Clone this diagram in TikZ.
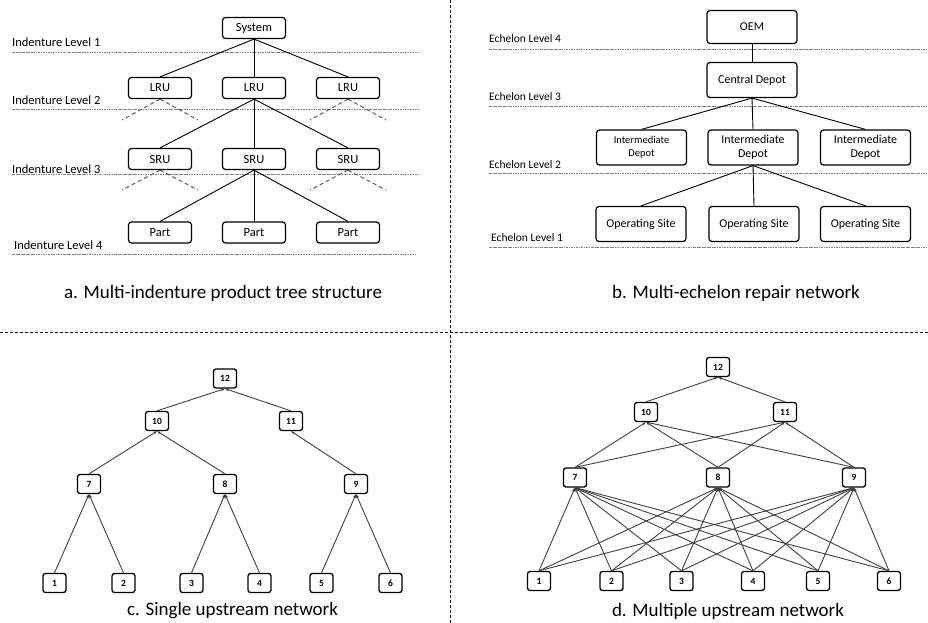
\documentclass[tikz,border=0pt]{standalone}
\usepackage{fontspec}
\setmainfont{Carlito}
\usetikzlibrary{arrows.meta}
\begin{document}
\begin{tikzpicture}[x=1pt,y=-1pt,
 box/.style={draw, line width=1.2pt, rounded corners=3pt, minimum width=63pt, minimum height=21pt, inner sep=1pt, font=\fontsize{12.5}{14}\selectfont},
 ebox/.style={box, minimum width=90pt, minimum height=35pt, align=center, font=\fontsize{12}{14}\selectfont},
 nbox/.style={draw, line width=1.3pt, rounded corners=2.5pt, minimum width=23pt, minimum height=19pt, inner sep=1pt, font=\bfseries\fontsize{9.5}{10}\selectfont},
 lvl/.style={draw=gray, line width=0.6pt, dash pattern=on 2.5pt off 1pt on 0.6pt off 1pt},
 lvltext/.style={anchor=west, inner sep=0pt, font=\fontsize{12.5}{14}\selectfont},
 etext/.style={anchor=west, inner sep=0pt, font=\fontsize{11.5}{13}\selectfont},
 tree/.style={line width=0.9pt},
 dtree/.style={line width=0.9pt, dash pattern=on 4pt off 3pt, draw=black!70},
 arr/.style={draw=black!75, line width=0.9pt, -{Stealth[length=4pt,width=3pt]}},
 captext/.style={font=\fontsize{19}{22}\selectfont},
 divider/.style={line width=1pt, dash pattern=on 3pt off 2pt}
]
\fill[white] (0,0) rectangle (928,623);
\useasboundingbox (0,0) rectangle (928,623);

% dividers
\coordinate (vt) at (450,0); \coordinate (vb) at (450,623);
\coordinate (hl) at (0,332); \coordinate (hr) at (928,332);
\draw[divider] (vt) -- (vb);
\draw[divider] (hl) -- (hr);

% ---------------- panel a ----------------
\coordinate (a1l) at (12,52);  \coordinate (a1r) at (420,52);
\coordinate (a2l) at (12,109); \coordinate (a2r) at (420,109);
\coordinate (a3l) at (12,174); \coordinate (a3r) at (420,174);
\coordinate (a4l) at (12,254); \coordinate (a4r) at (416,254);
\draw[lvl] (a1l) -- (a1r);
\draw[lvl] (a2l) -- (a2r);
\draw[lvl] (a3l) -- (a3r);
\draw[lvl] (a4l) -- (a4r);
\node[lvltext] (ta1) at (12,42) {Indenture Level 1};
\node[lvltext] (ta2) at (12,100) {Indenture Level 2};
\node[lvltext] (ta3) at (12,169) {Indenture Level 3};
\node[lvltext] (ta4) at (14,245) {Indenture Level 4};

\node[box] (sys) at (254,28) {System};
\node[box] (lru1) at (160,88) {LRU};
\node[box] (lru2) at (254,88) {LRU};
\node[box] (lru3) at (348,88) {LRU};
\node[box] (sru1) at (160,159) {SRU};
\node[box] (sru2) at (254,159) {SRU};
\node[box] (sru3) at (348,159) {SRU};
\node[box] (part1) at (160,232.5) {Part};
\node[box] (part2) at (254,232.5) {Part};
\node[box] (part3) at (348,232.5) {Part};

\draw[tree] (sys.south) -- (lru1.north);
\draw[tree] (sys.south) -- (lru2.north);
\draw[tree] (sys.south) -- (lru3.north);
\draw[tree] (lru2.south) -- (sru1.north);
\draw[tree] (lru2.south) -- (sru2.north);
\draw[tree] (lru2.south) -- (sru3.north);
\draw[tree] (sru2.south) -- (part1.north);
\draw[tree] (sru2.south) -- (part2.north);
\draw[tree] (sru2.south) -- (part3.north);

\coordinate (d1a) at (122,120); \coordinate (d1b) at (198,120);
\coordinate (d3a) at (310,120); \coordinate (d3b) at (386,120);
\coordinate (e1a) at (122,190); \coordinate (e1b) at (198,190);
\coordinate (e3a) at (310,190); \coordinate (e3b) at (386,190);
\draw[dtree] (lru1.south) -- (d1a);
\draw[dtree] (lru1.south) -- (d1b);
\draw[dtree] (lru3.south) -- (d3a);
\draw[dtree] (lru3.south) -- (d3b);
\draw[dtree] (sru1.south) -- (e1a);
\draw[dtree] (sru1.south) -- (e1b);
\draw[dtree] (sru3.south) -- (e3a);
\draw[dtree] (sru3.south) -- (e3b);

\node[captext] (capa) at (223,293) {a. Multi-indenture product tree structure};

% ---------------- panel b ----------------
\coordinate (b4l) at (489,49);  \coordinate (b4r) at (928,49);
\coordinate (b3l) at (489,106); \coordinate (b3r) at (928,106);
\coordinate (b2l) at (489,173); \coordinate (b2r) at (928,173);
\coordinate (b1l) at (489,247); \coordinate (b1r) at (928,247);
\draw[lvl] (b4l) -- (b4r);
\draw[lvl] (b3l) -- (b3r);
\draw[lvl] (b2l) -- (b2r);
\draw[lvl] (b1l) -- (b1r);
\node[etext] (tb4) at (489,39) {Echelon Level 4};
\node[etext] (tb3) at (489,97) {Echelon Level 3};
\node[etext] (tb2) at (489,165) {Echelon Level 2};
\node[etext] (tb1) at (491,238) {Echelon Level 1};

\node[ebox, minimum height=33pt] (oem) at (752,27) {OEM};
\node[ebox] (cdep) at (752,80) {Central Depot};
\node[ebox, font=\fontsize{10.5}{13}\selectfont] (id1) at (641.5,147.5) {Intermediate\\Depot};
\node[ebox] (id2) at (753,147.5) {Intermediate\\Depot};
\node[ebox] (id3) at (865.5,147.5) {Intermediate\\Depot};
\node[ebox] (os1) at (641,224) {Operating Site};
\node[ebox] (os2) at (754,224) {Operating Site};
\node[ebox] (os3) at (865.5,224) {Operating Site};

\draw[tree] (oem.south) -- (cdep.north);
\draw[tree] (cdep.south) -- (id1.north);
\draw[tree] (cdep.south) -- (id2.north);
\draw[tree] (cdep.south) -- (id3.north);
\draw[tree] (id2.south) -- (os1.north);
\draw[tree] (id2.south) -- (os2.north);
\draw[tree] (id2.south) -- (os3.north);

\node[captext] (capb) at (736,293) {b. Multi-echelon repair network};

% ---------------- panel c ----------------
\node[nbox] (c12) at (225,378.5) {12};
\node[nbox] (c10) at (157,421) {10};
\node[nbox] (c11) at (291,421) {11};
\node[nbox] (c7) at (89,484) {7};
\node[nbox] (c8) at (225,484) {8};
\node[nbox] (c9) at (356,484) {9};
\node[nbox] (c1) at (54.5,583) {1};
\node[nbox] (c2) at (123.5,583) {2};
\node[nbox] (c3) at (191.5,583) {3};
\node[nbox] (c4) at (259.5,583) {4};
\node[nbox] (c5) at (321.5,583) {5};
\node[nbox] (c6) at (390.5,583) {6};
\draw[arr] (c1.north) -- (c7.south);
\draw[arr] (c2.north) -- (c7.south);
\draw[arr] (c3.north) -- (c8.south);
\draw[arr] (c4.north) -- (c8.south);
\draw[arr] (c5.north) -- (c9.south);
\draw[arr] (c6.north) -- (c9.south);
\draw[arr] (c7.north) -- (c10.south);
\draw[arr] (c8.north) -- (c10.south);
\draw[arr] (c9.north) -- (c11.south);
\draw[arr] (c10.north) -- (c12.south);
\draw[arr] (c11.north) -- (c12.south);
\node[captext] (capc) at (232.5,611) {c. Single upstream network};

% ---------------- panel d ----------------
\node[nbox] (d12) at (718,367) {12};
\node[nbox] (d10) at (646,412) {10};
\node[nbox] (d11) at (785,412) {11};
\node[nbox] (d7) at (575,477.5) {7};
\node[nbox] (d8) at (718,477.5) {8};
\node[nbox] (d9) at (854,477.5) {9};
\node[nbox] (d1) at (539,581) {1};
\node[nbox] (d2) at (611.5,581) {2};
\node[nbox] (d3) at (681.5,581) {3};
\node[nbox] (d4) at (753,581) {4};
\node[nbox] (d5) at (818,581) {5};
\node[nbox] (d6) at (889,581) {6};
\foreach \s in {1,...,6}{
  \foreach \t in {7,8,9}{
    \draw[arr] (d\s.north) -- (d\t.south);
  }
}
\foreach \s in {7,8,9}{
  \foreach \t in {10,11}{
    \draw[arr] (d\s.north) -- (d\t.south);
  }
}
\draw[arr] (d10.north) -- (d12.south);
\draw[arr] (d11.north) -- (d12.south);
\node[captext] (capd) at (728,611) {d. Multiple upstream network};
\end{tikzpicture}
\end{document}
